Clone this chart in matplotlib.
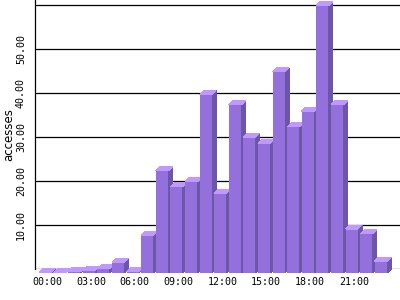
import matplotlib
matplotlib.use("Agg")
import matplotlib.pyplot as plt
from matplotlib.patches import Polygon

hours = list(range(24))
accesses = [0.1, 0.1, 0.3, 0.6, 1.0, 2.4, 0.3, 8.6, 23.2, 19.6, 20.7, 40.6,
            18.1, 38.2, 30.9, 29.5, 45.7, 33.2, 36.8, 60.8, 38.2, 10.0, 8.9, 2.7]
tick_hours = [0, 3, 6, 9, 12, 15, 18, 21]
tick_labels = ["%02d:00" % h for h in tick_hours]
grid_values = [10, 20, 30, 40, 50, 60]

FRONT = "#9370db"
TOP = "#c198ff"
SIDE = "#6c56a6"

plt.rcParams["font.family"] = "DejaVu Sans Mono"
plt.rcParams["font.size"] = 7.2

fig = plt.figure(figsize=(4, 3), dpi=100)
ax = fig.add_axes([35 / 400, 31 / 300, 365 / 400, 269 / 300])
ax.set_xlim(-0.70, 24.30)
ax.set_ylim(0, 61.14)

for v in grid_values + [0]:
    ax.axhline(v, color="black", lw=0.9, zorder=1)

w = 0.856   # front face width
dx = 0.274  # depth in x
dy = 0.91   # depth in y

for x, v in zip(hours, accesses):
    l, r = x - w / 2, x + w / 2
    front = Polygon([(l, -dy), (r, -dy), (r, v - dy), (l, v - dy)],
                    closed=True, facecolor=FRONT, edgecolor="none",
                    zorder=3, clip_on=False, antialiased=False)
    side = Polygon([(r, -dy), (r + dx, 0), (r + dx, v), (r, v - dy)],
                   closed=True, facecolor=SIDE, edgecolor="none",
                   zorder=3, clip_on=False, antialiased=False)
    top = Polygon([(l, v - dy), (r, v - dy), (r + dx, v), (l + dx, v)],
                  closed=True, facecolor=TOP, edgecolor="none",
                  zorder=3, clip_on=False, antialiased=False)
    for p in (front, side, top):
        ax.add_patch(p)

for s in ("top", "right", "bottom"):
    ax.spines[s].set_visible(False)
ax.spines["left"].set_linewidth(0.9)
ax.spines["left"].set_zorder(4)

ax.set_yticks([10, 20, 30, 40, 50])
ax.set_yticklabels(["%.2f" % v for v in [10, 20, 30, 40, 50]],
                   rotation=90, va="center")
ax.tick_params(axis="y", length=0, pad=6.5)

ax.set_xticks([h + 0.14 for h in tick_hours])
ax.set_xticklabels(tick_labels)
ax.tick_params(axis="x", length=0, pad=6)

ax.set_ylabel("accesses", fontsize=8.5, family="DejaVu Sans",
              va="center", ha="center")
ax.yaxis.set_label_coords(-0.071, 0.5)

fig.savefig("out.png", dpi=100)
